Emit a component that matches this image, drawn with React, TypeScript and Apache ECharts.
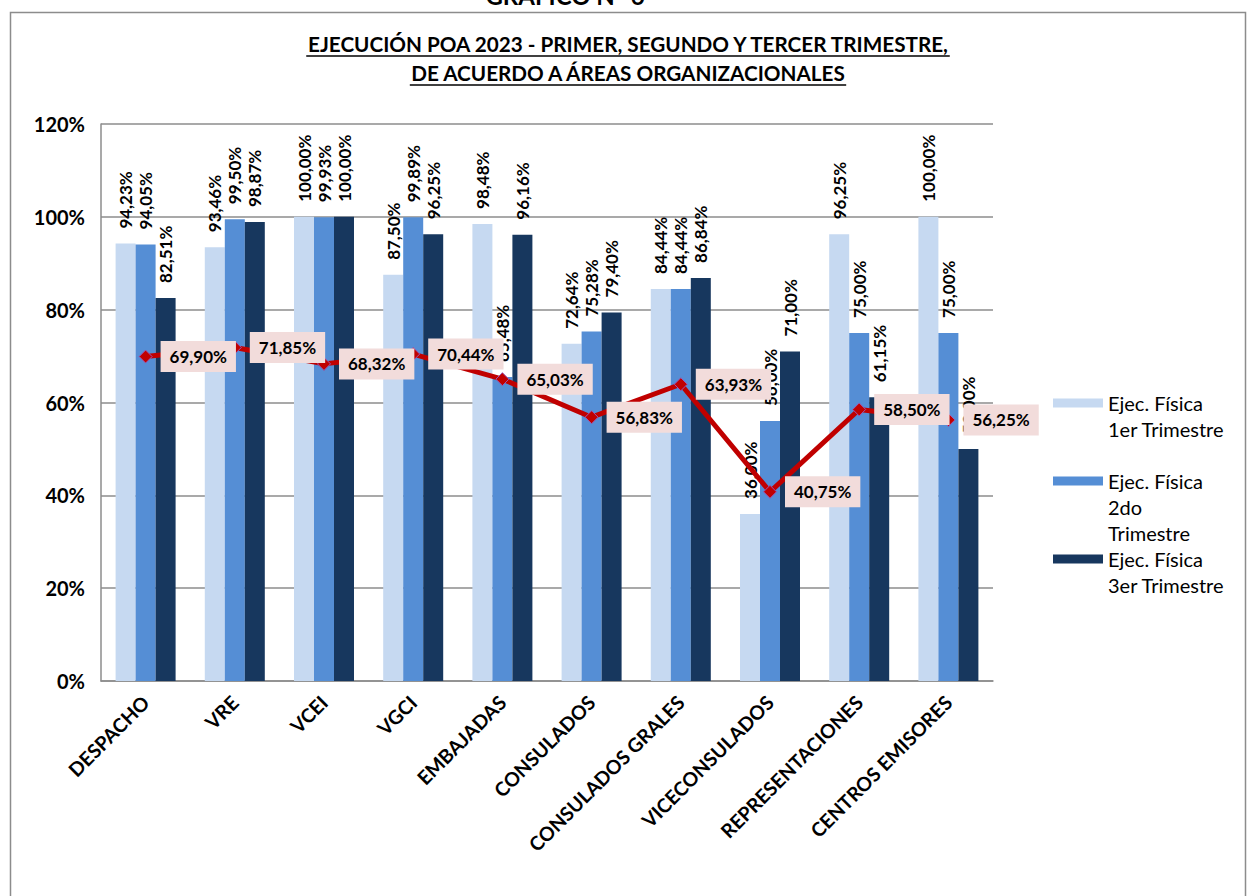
import React, { useEffect, useRef } from "react";
import * as echarts from "echarts";

const categories = [
  "DESPACHO",
  "VRE",
  "VCEI",
  "VGCI",
  "EMBAJADAS",
  "CONSULADOS",
  "CONSULADOS GRALES",
  "VICECONSULADOS",
  "REPRESENTACIONES",
  "CENTROS EMISORES",
];
const q1Values = [94.23, 93.46, 100.0, 87.5, 98.48, 72.64, 84.44, 36.0, 96.25, 100.0];
const q2Values = [94.05, 99.5, 99.93, 99.89, 65.48, 75.28, 84.44, 56.0, 75.0, 75.0];
const q3Values = [82.51, 98.87, 100.0, 96.25, 96.16, 79.4, 86.84, 71.0, 61.15, 50.0];
const avgValues = [69.9, 71.85, 68.32, 70.44, 65.03, 56.83, 63.93, 40.75, 58.5, 56.25];
const yTicks = { min: 0, max: 120, interval: 20 };

const seriesNames = [
  "Ejec. Física 1er Trimestre",
  "Ejec. Física 2do Trimestre",
  "Ejec. Física 3er Trimestre",
];
const legendText: Record<string, string> = {
  "Ejec. Física 1er Trimestre": "Ejec. Física\n1er Trimestre\n ",
  "Ejec. Física 2do Trimestre": "Ejec. Física\n2do\nTrimestre",
  "Ejec. Física 3er Trimestre": "Ejec. Física\n3er Trimestre\n ",
};

const TITLE1 = "EJECUCIÓN POA 2023 - PRIMER, SEGUNDO Y TERCER TRIMESTRE,";
const TITLE2 = "DE ACUERDO A ÁREAS ORGANIZACIONALES";
const FONT = "Lato";

const fmt = (v: number) => v.toFixed(2).replace(".", ",") + "%";

function measure(text: string, font: string): number {
  const c = document.createElement("canvas");
  const ctx = c.getContext("2d");
  if (!ctx) return text.length * 11;
  ctx.font = font;
  return ctx.measureText(text).width;
}

export default function App() {
  const ref = useRef<HTMLDivElement>(null);
  useEffect(() => {
    if (!ref.current) return;
    const chart = echarts.init(ref.current, undefined, { renderer: "svg" });
    const tFont = `bold 20.7px ${FONT}`;
    const w1 = measure(TITLE1, tFont);
    const w2 = measure(TITLE2, tFont);
    const cx = 628;

    const barLabel = {
      show: true,
      position: "top" as const,
      rotate: 90,
      align: "left" as const,
      verticalAlign: "middle" as const,
      distance: 15,
      fontFamily: FONT,
      fontWeight: "bold" as const,
      fontSize: 17,
      color: "#000",
      formatter: (p: any) => fmt(p.value),
    };
    const colors = ["#c6d9f1", "#558ed5", "#17375e"];
    const datas = [q1Values, q2Values, q3Values];
    const legendIcon = "path://M0,0L50,0M0,8.5L50,8.5L50,17.5L0,17.5ZM0,78L50,78";

    const option: any = {
      animation: false,
      textStyle: { fontFamily: FONT },
      grid: { left: 101, right: 255, top: 124, bottom: 215, containLabel: false },
      legend: {
        orient: "vertical",
        left: 1048,
        top: 385,
        itemWidth: 50,
        itemHeight: 78,
        itemGap: 0,
        icon: legendIcon,
        data: seriesNames,
        formatter: (n: string) => legendText[n] || n,
        textStyle: { fontFamily: FONT, fontSize: 20, lineHeight: 26, color: "#000" },
        selectedMode: false,
      },
      xAxis: {
        type: "category",
        data: categories,
        axisLine: { show: true, lineStyle: { color: "#8c8c8c", width: 1.5 } },
        axisTick: { show: false },
        axisLabel: {
          rotate: 45,
          interval: 0,
          margin: 18,
          fontFamily: FONT,
          fontWeight: "bold",
          fontSize: 19.5,
          color: "#000",
        },
      },
      yAxis: {
        type: "value",
        min: yTicks.min,
        max: yTicks.max,
        interval: yTicks.interval,
        axisLine: { show: true, lineStyle: { color: "#8c8c8c", width: 1.5 } },
        axisTick: { show: false },
        splitLine: { show: true, lineStyle: { color: "#8c8c8c", width: 1.5 } },
        axisLabel: {
          formatter: "{value}%",
          margin: 16,
          fontFamily: FONT,
          fontWeight: "bold",
          fontSize: 20,
          color: "#000",
        },
      },
      series: [
        ...datas.map((d, i) => ({
          name: seriesNames[i],
          type: "bar",
          data: d,
          barWidth: 20,
          barGap: "0%",
          itemStyle: { color: colors[i] },
          label: barLabel,
          z: 2,
        })),
        {
          name: "Promedio",
          type: "line",
          data: avgValues,
          z: 5,
          symbol: "diamond",
          symbolSize: 13,
          lineStyle: { color: "#c00000", width: 5 },
          itemStyle: { color: "#c00000", borderColor: "#9b59b6", borderWidth: 1 },
          label: {
            show: true,
            position: "right",
            distance: 8,
            backgroundColor: "#f2dcdb",
            padding: [6, 9, 6, 9],
            lineHeight: 19,
            fontFamily: FONT,
            fontWeight: "bold",
            fontSize: 17,
            color: "#000",
            formatter: (p: any) => fmt(p.value),
          },
        },
      ],
      graphic: [
        {
          type: "rect",
          shape: { x: 10.5, y: 12.5, width: 1235, height: 900 },
          style: { fill: "none", stroke: "#8c8c8c", lineWidth: 1.5 },
          silent: true,
          z: -10,
        },
        {
          type: "text",
          x: 565,
          y: -5,
          style: {
            text: "GRÁFICO N° 6",
            fontFamily: FONT,
            fontWeight: "bold",
            fontSize: 24,
            fill: "#000",
            align: "center",
            verticalAlign: "middle",
          },
        },
        {
          type: "text",
          x: cx,
          y: 44,
          style: {
            text: TITLE1,
            font: tFont,
            fill: "#000",
            align: "center",
            verticalAlign: "middle",
          },
        },
        {
          type: "line",
          shape: { x1: cx - w1 / 2, y1: 56, x2: cx + w1 / 2, y2: 56 },
          style: { stroke: "#000", lineWidth: 1.5 },
        },
        {
          type: "text",
          x: cx,
          y: 73,
          style: {
            text: TITLE2,
            font: tFont,
            fill: "#000",
            align: "center",
            verticalAlign: "middle",
          },
        },
        {
          type: "line",
          shape: { x1: cx - w2 / 2, y1: 85, x2: cx + w2 / 2, y2: 85 },
          style: { stroke: "#000", lineWidth: 1.5 },
        },
      ],
    };
    chart.setOption(option);
    return () => chart.dispose();
  }, []);
  return (
    <div
      ref={ref}
      style={{ position: "absolute", left: 0, top: 0, width: 1248, height: 896, background: "#fff" }}
    />
  );
}
